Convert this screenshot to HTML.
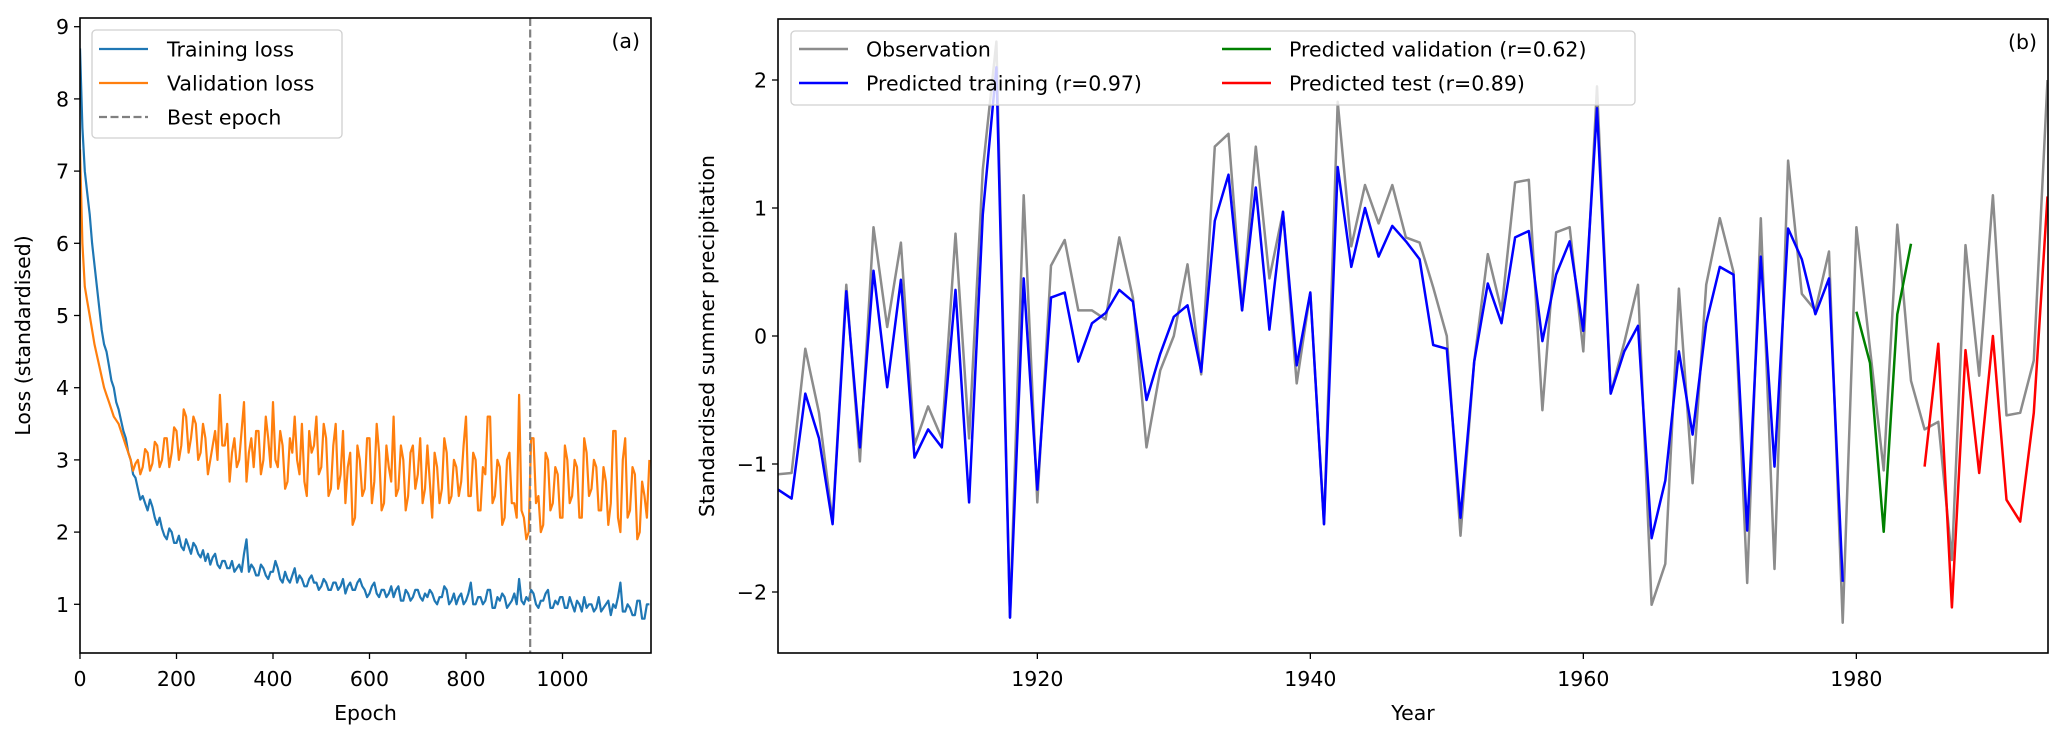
<!DOCTYPE html>
<html>
<head>
<meta charset="utf-8">
<style>
  html,body{margin:0;padding:0;background:#fff;}
  svg{display:block;font-family:"DejaVu Sans","Liberation Sans",sans-serif;}
</style>
</head>
<body>
<svg id="fig" width="2067" height="741" viewBox="0 0 2067 741" xmlns="http://www.w3.org/2000/svg">
  <rect x="0" y="0" width="2067" height="741" fill="#fff"/>
  <g id="panelA"></g>
  <g id="panelB"></g>
</svg>
<script>
// ---------- Panel (a) data: loss every 5 epochs ----------
const lossEpochStep = 5;
const trainingLoss = [8.7,7.6,7.0,6.7,6.4,6.0,5.7,5.4,5.1,4.8,4.6,4.5,4.3,4.1,4.0,3.8,3.7,3.55,3.4,3.3,3.1,3.0,2.8,2.75,2.6,2.45,2.5,2.4,2.3,2.45,2.35,2.2,2.1,2.2,2.05,1.95,1.9,2.05,2.0,1.85,1.85,1.95,1.8,1.75,1.9,1.8,1.7,1.85,1.8,1.7,1.65,1.75,1.6,1.7,1.55,1.65,1.7,1.55,1.5,1.6,
1.6,1.5,1.5,1.6,1.45,1.5,1.55,1.45,1.7,1.9,1.45,1.55,1.5,1.4,1.4,1.55,1.5,1.4,1.35,1.45,
1.45,1.6,1.5,1.35,1.3,1.45,1.35,1.3,1.4,1.5,1.3,1.4,1.35,1.25,1.25,1.35,1.4,1.3,1.3,1.2,
1.25,1.35,1.3,1.2,1.2,1.3,1.3,1.2,1.25,1.35,1.15,1.25,1.3,1.2,1.2,1.3,1.35,1.25,1.2,1.1,
1.15,1.25,1.3,1.15,1.1,1.2,1.2,1.1,1.15,1.25,1.1,1.2,1.25,1.05,1.05,1.2,1.15,1.05,1.1,1.2,
1.2,1.1,1.05,1.15,1.1,1.2,1.15,1.05,1.0,1.1,1.1,1.25,1.2,1.0,1.05,1.15,1.0,1.1,1.15,1.0,
1.05,1.15,1.3,1.0,1.0,1.1,1.1,1.0,1.05,1.2,1.2,0.95,0.95,1.1,1.05,1.15,1.1,0.95,1.0,1.05,
1.15,1.0,1.35,1.05,1.0,1.1,1.05,1.2,1.15,1.0,0.95,1.05,1.05,1.15,1.2,0.95,0.95,1.05,1.0,1.1,
1.1,0.95,0.95,1.1,1.0,0.9,1.05,1.0,0.9,1.1,0.95,1.0,1.0,0.9,0.95,1.1,0.9,0.95,1.0,1.05,
0.85,1.0,0.95,1.1,1.3,0.9,0.9,1.0,0.95,0.85,0.85,1.05,1.05,0.8,0.8,1.0,1.0];
const validationLoss = [7.3,6.0,5.4,5.2,5.0,4.8,4.6,4.45,4.3,4.15,4.0,3.9,3.8,3.7,3.6,3.55,3.5,3.4,3.3,3.2,3.1,3.0,2.85,2.95,3.0,2.8,2.9,3.15,3.1,2.85,2.95,3.25,3.2,2.9,3.0,3.3,3.3,2.9,3.1,3.45,3.4,3.0,3.2,3.7,3.6,3.1,3.3,3.6,3.5,3.0,3.1,3.5,3.3,2.8,3.0,3.2,3.4,3.0,3.9,3.2,
3.2,3.5,2.7,3.1,3.3,2.9,3.0,3.4,3.8,2.7,3.1,3.3,2.9,3.4,3.4,2.8,3.0,3.6,3.3,2.9,
3.8,3.0,2.9,3.4,3.2,2.6,2.7,3.3,3.1,3.6,3.0,2.8,3.5,2.7,2.5,3.4,3.1,3.2,3.6,2.8,
2.9,3.5,3.3,2.5,2.6,3.2,3.5,2.6,2.8,3.4,2.4,2.9,3.1,2.1,2.2,3.2,3.0,2.5,2.6,3.3,
3.3,2.4,2.7,3.5,3.1,2.3,2.4,3.2,2.9,2.7,3.6,2.5,2.6,3.2,3.0,2.3,2.5,3.1,3.2,2.6,
2.8,3.3,2.4,2.6,3.2,2.7,2.2,3.1,2.9,2.4,2.6,3.3,3.1,2.4,2.5,3.0,2.9,2.5,2.7,3.2,
3.6,2.5,2.5,3.1,3.0,2.3,2.3,2.9,2.8,3.6,3.6,2.4,2.5,3.0,2.9,2.1,2.2,3.0,3.1,2.4,
2.4,2.2,3.9,2.3,2.2,1.9,2.0,3.3,3.3,2.4,2.5,2.0,2.1,3.1,3.0,2.3,2.4,2.9,2.8,2.2,
2.2,3.2,3.0,2.4,2.5,3.0,2.9,2.2,2.2,3.3,3.1,2.5,2.6,3.0,2.9,2.3,2.3,2.9,2.7,2.1,
2.4,3.4,3.4,2.2,2.0,3.0,3.3,2.2,2.3,2.9,2.8,1.9,2.0,2.7,2.5,2.2,3.0];
const bestEpoch = 933;
const lossXTicks = [0,200,400,600,800,1000];
const lossYTicks = [1,2,3,4,5,6,7,8,9];

// ---------- Panel (b) data ----------
const firstYear = 1901;
const observation = [-1.08,-1.07,-0.1,-0.6,-1.45,0.4,-0.98,0.85,0.07,0.73,
-0.85,-0.55,-0.8,0.8,-0.8,1.3,2.3,-2.2,1.1,-1.3,
0.55,0.75,0.2,0.2,0.13,0.77,0.3,-0.87,-0.27,0.0,
0.56,-0.3,1.48,1.58,0.2,1.48,0.45,0.97,-0.37,0.34,
-1.47,1.83,0.7,1.18,0.88,1.18,0.77,0.73,0.38,0.0,
-1.56,-0.2,0.64,0.2,1.2,1.22,-0.58,0.81,0.85,-0.12,
1.95,-0.45,-0.05,0.4,-2.1,-1.78,0.37,-1.15,0.4,0.92,
0.5,-1.93,0.92,-1.82,1.37,0.33,0.2,0.66,-2.24,0.85,
-0.1,-1.05,0.87,-0.35,-0.73,-0.67,-1.75,0.71,-0.31,1.1,
-0.62,-0.6,-0.19,2.0];
const trainStartYear = 1901;
const predTraining = [-1.2,-1.27,-0.45,-0.8,-1.47,0.35,-0.87,0.51,-0.4,0.44,
-0.95,-0.73,-0.87,0.36,-1.3,0.95,2.1,-2.2,0.45,-1.2,
0.3,0.34,-0.2,0.1,0.18,0.36,0.27,-0.5,-0.14,0.15,
0.24,-0.28,0.9,1.26,0.2,1.16,0.05,0.97,-0.23,0.34,
-1.47,1.32,0.54,1.0,0.62,0.86,0.74,0.6,-0.07,-0.1,
-1.42,-0.2,0.41,0.1,0.77,0.82,-0.04,0.48,0.74,0.04,
1.78,-0.45,-0.12,0.08,-1.58,-1.13,-0.12,-0.77,0.1,0.54,
0.48,-1.52,0.62,-1.02,0.84,0.6,0.17,0.45,-1.92];
const valStartYear = 1980;
const predValidation = [0.19,-0.21,-1.53,0.17,0.72];
const testStartYear = 1985;
const predTest = [-1.02,-0.06,-2.12,-0.11,-1.07,0.0,-1.28,-1.45,-0.6,1.09];
const yearTicks = [1920,1940,1960,1980];
const precipYTicks = [-2,-1,0,1,2];

const NS = "http://www.w3.org/2000/svg";
function mk(parent, tag, attrs, text){
  const e = document.createElementNS(NS, tag);
  for (const k in attrs) e.setAttribute(k, attrs[k]);
  if (text !== undefined) e.textContent = text;
  parent.appendChild(e);
  return e;
}

// ================= Panel A =================
const A = document.getElementById('panelA');
const aL=80, aR=651, aT=18, aB=653;
const ax = e => aL + e*0.4825;
const ay = v => 26.7 + (9-v)*72.2;

function lossPath(arr){
  return arr.map((v,i)=>(i?'L':'M')+ax(i*lossEpochStep).toFixed(1)+' '+ay(v).toFixed(1)).join(' ');
}
const clipA = mk(A,'clipPath',{id:'clipA'});
mk(clipA,'rect',{x:aL,y:aT,width:aR-aL,height:aB-aT});
const gA = mk(A,'g',{'clip-path':'url(#clipA)'});
const tl = mk(gA,'path',{d:lossPath(trainingLoss),fill:'none',stroke:'#1f77b4','stroke-width':2.2,'stroke-linejoin':'round'});


const vl = mk(gA,'path',{d:lossPath(validationLoss),fill:'none',stroke:'#ff7f0e','stroke-width':2.2,'stroke-linejoin':'round'});


const be = mk(gA,'line',{x1:ax(bestEpoch),x2:ax(bestEpoch),y1:aT,y2:aB,stroke:'#808080','stroke-width':2.2,'stroke-dasharray':'8,3.5'});



const frA = mk(A,'rect',{x:aL,y:aT,width:aR-aL,height:aB-aT,fill:'none',stroke:'#000','stroke-width':1.6});


lossXTicks.forEach(t=>{
  mk(A,'line',{x1:ax(t),x2:ax(t),y1:aB,y2:aB+6,stroke:'#000','stroke-width':1.3});
  const tx = mk(A,'text',{x:ax(t),y:aB+33,'font-size':20.5,'text-anchor':'middle'},String(t));
  
  
});
lossYTicks.forEach(t=>{
  mk(A,'line',{x1:aL-6,x2:aL,y1:ay(t),y2:ay(t),stroke:'#000','stroke-width':1.3});
  const tx = mk(A,'text',{x:aL-11,y:ay(t)+7.5,'font-size':20.5,'text-anchor':'end'},String(t));
  
  
});
const xtA = mk(A,'text',{x:(aL+aR)/2,y:720,'font-size':20.5,'text-anchor':'middle'},'Epoch');


const ytA = mk(A,'text',{x:0,y:0,'font-size':20.5,'text-anchor':'middle',transform:'translate(30,'+((aT+aB)/2)+') rotate(-90)'},'Loss (standardised)');


const pa = mk(A,'text',{x:640,y:48,'font-size':20.5,'text-anchor':'end'},'(a)');



// legend A
const legA = mk(A,'g',{});


mk(legA,'rect',{x:92,y:30,width:250,height:108,rx:4,fill:'#fff','fill-opacity':0.8,stroke:'#d0d0d0','stroke-width':1.3});
[['Training loss','#1f77b4',null,49],['Validation loss','#ff7f0e',null,83],['Best epoch','#808080','8,3.5',117]].forEach(r=>{
  const g = mk(legA,'g',{});
  
  
  const la = {x1:99,x2:148,y1:r[3],y2:r[3],stroke:r[1],'stroke-width':2.2};
  if (r[2]) la['stroke-dasharray']=r[2];
  mk(g,'line',la);
  mk(g,'text',{x:167,y:r[3]+7.5,'font-size':20.5},r[0]);
});

// ================= Panel B =================
const B = document.getElementById('panelB');
const bL=778, bR=2048, bT=19, bB=653;
const bx = yr => bL + (yr-1901)*13.65;
const by = v => 336 - 128*v;
function seriesPath(start, arr){
  return arr.map((v,i)=>(i?'L':'M')+bx(start+i).toFixed(1)+' '+by(v).toFixed(1)).join(' ');
}
const clipB = mk(B,'clipPath',{id:'clipB'});
mk(clipB,'rect',{x:bL,y:bT,width:bR-bL,height:bB-bT});
const gB = mk(B,'g',{'clip-path':'url(#clipB)'});
const ob = mk(gB,'path',{d:seriesPath(firstYear,observation),fill:'none',stroke:'#8c8c8c','stroke-width':2.5,'stroke-linejoin':'round'});


const ptr = mk(gB,'path',{d:seriesPath(trainStartYear,predTraining),fill:'none',stroke:'#0000ff','stroke-width':2.5,'stroke-linejoin':'round'});


const pva = mk(gB,'path',{d:seriesPath(valStartYear,predValidation),fill:'none',stroke:'#008000','stroke-width':2.5,'stroke-linejoin':'round'});


const pte = mk(gB,'path',{d:seriesPath(testStartYear,predTest),fill:'none',stroke:'#ff0000','stroke-width':2.5,'stroke-linejoin':'round'});



const frB = mk(B,'rect',{x:bL,y:bT,width:bR-bL,height:bB-bT,fill:'none',stroke:'#000','stroke-width':1.6});


yearTicks.forEach(t=>{
  mk(B,'line',{x1:bx(t),x2:bx(t),y1:bB,y2:bB+6,stroke:'#000','stroke-width':1.3});
  const tx = mk(B,'text',{x:bx(t),y:bB+33,'font-size':20.5,'text-anchor':'middle'},String(t));
  
  
});
precipYTicks.forEach(t=>{
  mk(B,'line',{x1:bL-6,x2:bL,y1:by(t),y2:by(t),stroke:'#000','stroke-width':1.3});
  const tx = mk(B,'text',{x:bL-11,y:by(t)+7.5,'font-size':20.5,'text-anchor':'end'},(t<0?'\u2212':'')+Math.abs(t));
  
  
});
const xtB = mk(B,'text',{x:(bL+bR)/2,y:720,'font-size':20.5,'text-anchor':'middle'},'Year');


const ytB = mk(B,'text',{x:0,y:0,'font-size':20.5,'text-anchor':'middle',transform:'translate(714,'+((bT+bB)/2)+') rotate(-90)'},'Standardised summer precipitation');


const pb = mk(B,'text',{x:2037,y:49,'font-size':20.5,'text-anchor':'end'},'(b)');



// legend B
const legB = mk(B,'g',{});


mk(legB,'rect',{x:791,y:31,width:844,height:74,rx:4,fill:'#fff','fill-opacity':0.8,stroke:'#d0d0d0','stroke-width':1.3});
[['Observation','#8c8c8c',799,49],['Predicted training (r=0.97)','#0000ff',799,83],
 ['Predicted validation (r=0.62)','#008000',1222,49],['Predicted test (r=0.89)','#ff0000',1222,83]].forEach(r=>{
  const g = mk(legB,'g',{});
  
  
  mk(g,'line',{x1:r[2],x2:r[2]+49,y1:r[3],y2:r[3],stroke:r[1],'stroke-width':2.5});
  mk(g,'text',{x:r[2]+67,y:r[3]+7.5,'font-size':20.5},r[0]);
});
</script>
</body>
</html>
